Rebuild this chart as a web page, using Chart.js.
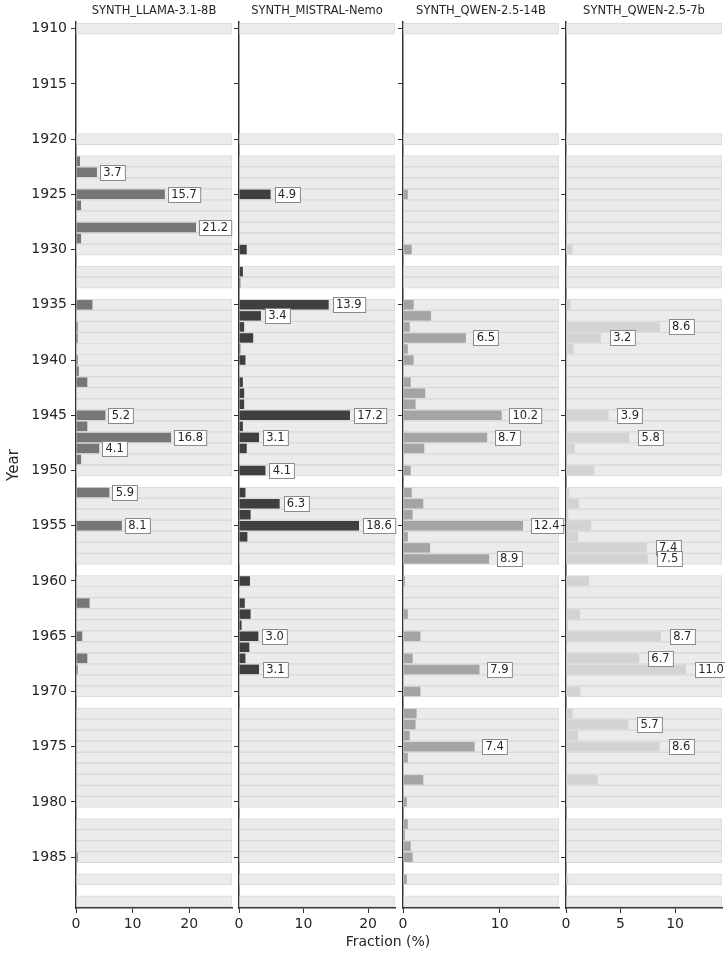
<!DOCTYPE html>
<html>
<head>
<meta charset="utf-8">
<script src="https://cdn.jsdelivr.net/npm/chart.js@4.4.1/dist/chart.umd.min.js"></script>
<style>
  html, body { margin: 0; padding: 0; background: #fff; }
  #wrap { position: relative; width: 725px; height: 955px; overflow: hidden; }
  #wrap canvas { position: absolute; top: 0; }
  #xlabel {
    position: absolute; left: 288px; width: 200px; top: 933px;
    text-align: center; font: 14px "DejaVu Sans", sans-serif; color: #262626; line-height: 17px;
  }
</style>
</head>
<body>
<div id="wrap">
  <canvas id="p0" width="240" height="955" style="left:0px"></canvas>
  <canvas id="p1" width="174" height="955" style="left:229px"></canvas>
  <canvas id="p2" width="174" height="955" style="left:393px"></canvas>
  <canvas id="p3" width="169" height="955" style="left:556px"></canvas>
  <div id="xlabel">Fraction (%)</div>
</div>
<script>
// years on the shared y axis, 1910 .. 1989
const years = [];
for (let y = 1910; y <= 1989; y++) years.push(y);

// rows that carry the light grey background band
const bandYears = [
  1910, 1920,
  1922, 1923, 1924, 1925, 1926, 1927, 1928, 1929, 1930,
  1932, 1933,
  1935, 1936, 1937, 1938, 1939, 1940, 1941, 1942, 1943, 1944, 1945, 1946, 1947, 1948, 1949, 1950,
  1952, 1953, 1954, 1955, 1956, 1957, 1958,
  1960, 1961, 1962, 1963, 1964, 1965, 1966, 1967, 1968, 1969, 1970,
  1972, 1973, 1974, 1975, 1976, 1977, 1978, 1979, 1980,
  1982, 1983, 1984, 1985,
  1987, 1989
];

const modelNames = ["SYNTH_LLAMA-3.1-8B", "SYNTH_MISTRAL-Nemo", "SYNTH_QWEN-2.5-14B", "SYNTH_QWEN-2.5-7b"];

// fraction (%) per year, one entry per year from 1910 to 1989
const llama = [
  0, 0, 0, 0, 0, 0, 0, 0, 0, 0,
  0, 0, 0.7, 3.7, 0, 15.7, 0.9, 0, 21.2, 0.9,
  0, 0, 0.1, 0, 0, 2.9, 0, 0.3, 0.3, 0,
  0.3, 0.5, 2.0, 0.1, 0, 5.2, 2.0, 16.8, 4.1, 0.9,
  0, 0, 5.9, 0, 0, 8.1, 0, 0, 0, 0,
  0, 0, 2.4, 0, 0, 1.1, 0, 2.0, 0.3, 0.1,
  0, 0, 0, 0, 0, 0, 0, 0, 0, 0,
  0, 0, 0, 0, 0, 0.3, 0, 0, 0, 0
];
const mistral = [
  0, 0, 0, 0, 0, 0, 0, 0, 0, 0,
  0, 0, 0, 0, 0, 4.9, 0, 0, 0, 0,
  1.2, 0, 0.6, 0.2, 0, 13.9, 3.4, 0.8, 2.2, 0.2,
  1.0, 0, 0.6, 0.8, 0.8, 17.2, 0.6, 3.1, 1.2, 0,
  4.1, 0, 1.0, 6.3, 1.8, 18.6, 1.3, 0, 0, 0,
  1.7, 0, 0.9, 1.8, 0.4, 3.0, 1.6, 1.0, 3.1, 0,
  0, 0, 0, 0, 0, 0, 0, 0, 0, 0,
  0, 0, 0, 0, 0, 0, 0, 0, 0, 0
];
const qwen14 = [
  0, 0, 0, 0, 0, 0, 0, 0, 0, 0,
  0, 0, 0, 0, 0, 0.5, 0, 0, 0, 0,
  0.9, 0, 0, 0, 0, 1.1, 2.9, 0.7, 6.5, 0.5,
  1.1, 0, 0.8, 2.3, 1.3, 10.2, 0, 8.7, 2.2, 0,
  0.8, 0, 0.9, 2.1, 1.0, 12.4, 0.5, 2.8, 8.9, 0,
  0.2, 0, 0, 0.5, 0, 1.8, 0, 1.0, 7.9, 0,
  1.8, 0, 1.4, 1.3, 0.7, 7.4, 0.5, 0, 2.1, 0.1,
  0.4, 0, 0.5, 0.2, 0.8, 1.0, 0, 0.4, 0, 0.1
];
const qwen7 = [
  0, 0, 0, 0, 0, 0, 0, 0, 0, 0,
  0, 0, 0, 0, 0, 0, 0, 0.2, 0, 0,
  0.6, 0, 0, 0, 0, 0.4, 0, 8.6, 3.2, 0.7,
  0, 0, 0, 0, 0, 3.9, 0, 5.8, 0.8, 0,
  2.6, 0, 0.3, 1.2, 0.2, 2.3, 1.1, 7.4, 7.5, 0,
  2.1, 0, 0, 1.3, 0.2, 8.7, 0, 6.7, 11.0, 0,
  1.3, 0, 0.6, 5.7, 1.1, 8.6, 0, 0, 2.9, 0,
  0, 0, 0, 0, 0, 0, 0, 0.2, 0, 0
];

const seriesList = [llama, mistral, qwen14, qwen7];
const barColors = ["#767676", "#3f3f3f", "#a4a4a4", "#d3d3d3"];
const xSteps = [10, 10, 10, 5];

const FONT = "'DejaVu Sans', sans-serif";
const TEXT = "#262626";
const SPINE = "#333333";

// canvas geometry: y-axis strip width and right padding per panel
const axisWidths = [76, 10, 10, 10];
const rightPads = [8, 8, 8, 3];

const panelTitle = {
  id: "panelTitle",
  afterDraw(chart, args, opts) {
    const { ctx, chartArea } = chart;
    ctx.save();
    ctx.font = "11.5px " + FONT;
    ctx.fillStyle = TEXT;
    ctx.textAlign = "center";
    ctx.textBaseline = "middle";
    ctx.fillText(opts.text, (chartArea.left + chartArea.right) / 2, 11);
    ctx.restore();
  }
};

const valueLabels = {
  id: "valueLabels",
  afterDatasetsDraw(chart) {
    const ctx = chart.ctx;
    const xs = chart.scales.x;
    const ds = chart.data.datasets[1];
    const meta = chart.getDatasetMeta(1);
    ctx.save();
    ctx.font = "11.5px " + FONT;
    ctx.textBaseline = "middle";
    ctx.textAlign = "left";
    meta.data.forEach((bar, i) => {
      const v = ds.data[i].x;
      if (v < 3) return;
      const text = v.toFixed(1);
      const tx = xs.getPixelForValue(v + 1.12);
      const w = ctx.measureText(text).width;
      const bx = Math.round(tx - 3.3) + 0.5;
      const by = Math.round(bar.y - 7.7) + 0.5;
      ctx.fillStyle = "#ffffff";
      ctx.strokeStyle = "#8a8a8a";
      ctx.lineWidth = 1;
      ctx.fillRect(bx, by, w + 6.6, 15);
      ctx.strokeRect(bx, by, w + 6.6, 15);
      ctx.fillStyle = TEXT;
      ctx.fillText(text, tx, bar.y + 0.5);
    });
    ctx.restore();
  }
};

seriesList.forEach((vals, idx) => {
  const xmax = Math.max(...vals) * 1.3;
  const bandData = bandYears.map((y) => ({ x: xmax, y }));
  const barData = years
    .map((y, i) => ({ x: vals[i], y }))
    .filter((d) => d.x > 0);

  new Chart(document.getElementById("p" + idx), {
    type: "bar",
    data: {
      datasets: [
        {
          data: bandData,
          backgroundColor: "#ebebeb",
          borderColor: "#d9d9d9",
          borderWidth: 1,
          barPercentage: 1,
          categoryPercentage: 1,
          grouped: false,
          order: 2
        },
        {
          data: barData,
          backgroundColor: barColors[idx],
          borderWidth: 0,
          barPercentage: 0.86,
          categoryPercentage: 1,
          grouped: false,
          order: 1
        }
      ]
    },
    options: {
      indexAxis: "y",
      responsive: false,
      animation: false,
      devicePixelRatio: 1,
      layout: { padding: { top: 22, right: rightPads[idx], bottom: 0, left: 0 } },
      plugins: {
        legend: { display: false },
        tooltip: { enabled: false },
        panelTitle: { text: modelNames[idx] }
      },
      scales: {
        y: {
          type: "linear",
          reverse: true,
          offset: false,
          min: 1909.4,
          max: 1989.6,
          ticks: {
            stepSize: 5,
            includeBounds: false,
            display: idx === 0,
            font: { family: FONT, size: 14 },
            color: TEXT,
            padding: 4,
            callback: (v) => String(v)
          },
          grid: { offset: false, drawOnChartArea: false, drawTicks: true, tickLength: 5, color: SPINE, lineWidth: 1 },
          border: { display: true, color: SPINE, width: 1.5 },
          title: {
            display: idx === 0,
            text: "Year",
            font: { family: FONT, size: 15 },
            color: TEXT,
            padding: { top: 5, bottom: 0 }
          },
          afterFit: (s) => { s.width = axisWidths[idx]; }
        },
        x: {
          type: "linear",
          min: 0,
          max: xmax,
          ticks: {
            stepSize: xSteps[idx],
            includeBounds: false,
            font: { family: FONT, size: 14 },
            color: TEXT,
            padding: 3,
            maxRotation: 0
          },
          grid: { drawOnChartArea: false, drawTicks: true, tickLength: 5, color: SPINE, lineWidth: 1 },
          border: { display: true, color: SPINE, width: 1.5 },
          afterFit: (s) => { s.height = 47; }
        }
      }
    },
    plugins: [panelTitle, valueLabels]
  });
});
</script>
</body>
</html>
